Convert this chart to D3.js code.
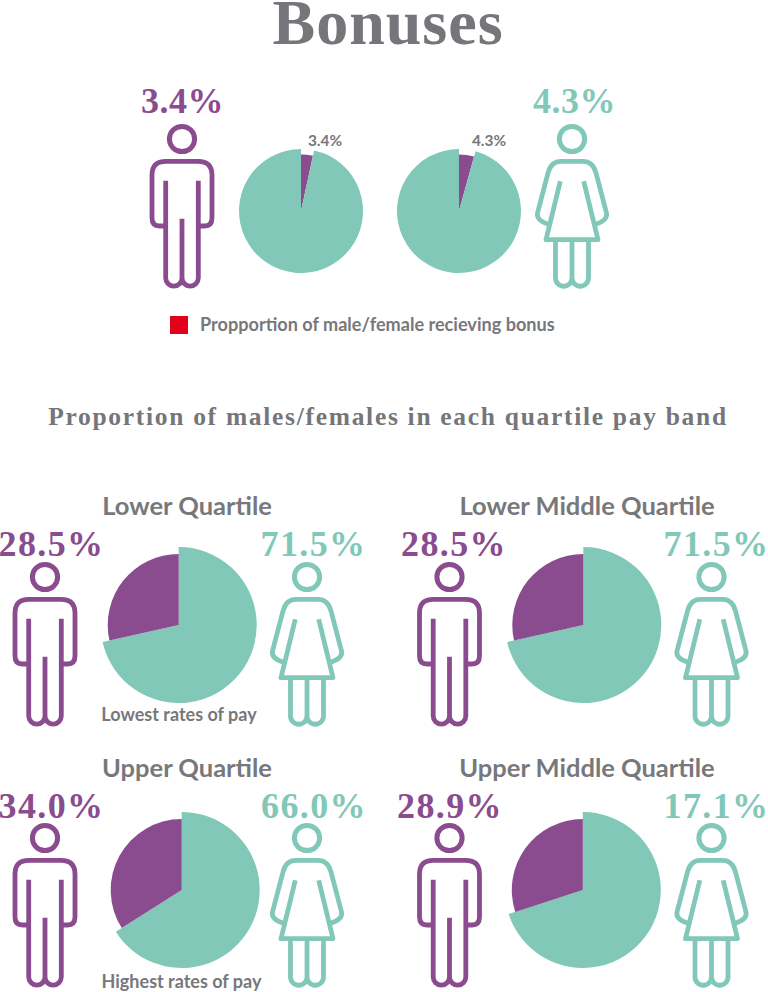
<!DOCTYPE html>
<html><head><meta charset="utf-8">
<script src="https://cdn.jsdelivr.net/npm/d3@7"></script>
<style>html,body{margin:0;padding:0;background:#fff}svg{display:block}
.serif{font-family:"Liberation Serif",serif;font-weight:700}
.sans{font-family:Lato,sans-serif;font-weight:700;fill:#77787b}</style>
</head><body><svg id="c" width="768" height="992"></svg>
<script>
const bonusLabels = ["3.4%", "4.3%"];
const bonusValues = [3.4, 4.3];
const quartiles = ["Lower Quartile", "Lower Middle Quartile", "Upper Quartile", "Upper Middle Quartile"];
// slice sizes as drawn in the picture
const maleShare = [28.5, 28.5, 34.0, 30.0];
const femaleShare = [71.5, 71.5, 66.0, 70.0];
// figures as printed in the picture
const maleText = ["28.5%", "28.5%", "34.0%", "28.9%"];
const femaleText = ["71.5%", "71.5%", "66.0%", "17.1%"];
const notes = ["Lowest rates of pay", "", "Highest rates of pay", ""];
const legendText = "Propportion of male/female recieving bonus";

const PURPLE = "#8a4b8f", TEAL = "#82c8b9", GREY = "#75767a";
const svg = d3.select("#c");
const pie = d3.pie().sort(null).value(d => d.v);

function drawPie(cx, cy, outer, inner, share, rest, purpleFirst) {
  const g = svg.append("g").attr("transform", `translate(${cx},${cy})`);
  const a = {v: share, c: PURPLE, r: inner}, b = {v: rest, c: TEAL, r: outer};
  g.selectAll("path").data(pie(purpleFirst ? [a, b] : [b, a]))
    .join("path").attr("fill", d => d.data.c)
    .attr("d", d => d3.arc().innerRadius(0).outerRadius(d.data.r)(d));
}
function head(g, c) {
  g.append("circle").attr("r", 12.6).attr("fill", "none").attr("stroke", c).attr("stroke-width", 5);
}
function male(cx, cy) {
  const g = svg.append("g").attr("transform", `translate(${cx},${cy})`);
  head(g, PURPLE);
  g.append("path").attr("fill", "none").attr("stroke", PURPLE).attr("stroke-width", 4.8).attr("stroke-linejoin", "round")
   .attr("d", "M-16.3,41.7V139A8.1,8.1 0 0 0 0,139V79.7M0,139A8.1,8.1 0 0 0 16.3,139V41.7M-16.3,87H-22.5Q-30,87 -30,79V36Q-30,22.3 -16,22.3H16Q30,22.3 30,36V79Q30,87 22.5,87H16.3");
}
function female(cx, cy) {
  const g = svg.append("g").attr("transform", `translate(${cx},${cy})`);
  head(g, TEAL);
  g.append("path").attr("fill", "none").attr("stroke", TEAL).attr("stroke-width", 4.8).attr("stroke-linejoin", "round").attr("stroke-linecap", "butt")
   .attr("d", "M-11.7,42.3L-26,100.7H26L11.7,42.3M-16.5,100.7V139A8.25,8.25 0 0 0 0,139V100.7M0,139A8.25,8.25 0 0 0 16.5,139V100.7M-24.3,85Q-36,81 -34.5,74L-24,34Q-21,22.3 -11,22.3H11Q21,22.3 24,34L34.5,74Q36,81 24.3,85");
}
function big(x, y, t, c, sp) {
  svg.append("text").attr("class", "serif").attr("x", x).attr("y", y).attr("text-anchor", "middle")
    .attr("font-size", 36).attr("letter-spacing", sp).attr("fill", c).text(t);
}
function sans(x, y, t, size, anchor) {
  svg.append("text").attr("class", "sans").attr("x", x).attr("y", y).attr("text-anchor", anchor || "middle")
    .attr("font-size", size).text(t);
}

svg.append("text").attr("class", "serif").attr("x", 388).attr("y", 44).attr("text-anchor", "middle")
  .attr("font-size", 64).attr("letter-spacing", 1).attr("fill", GREY).text("Bonuses");

male(182, 139); female(572, 139);
big(182.5, 113, bonusLabels[0], PURPLE, 0.5); big(574.5, 113, bonusLabels[1], TEAL, 0.5);
[[301, 325], [459, 489]].forEach(([cx, lx], i) => {
  drawPie(cx, 211, 62, 56.5, bonusValues[i], 100 - bonusValues[i], true);
  sans(lx, 146, bonusLabels[i], 15.4);
});
svg.append("rect").attr("x", 170).attr("y", 316).attr("width", 18).attr("height", 18).attr("fill", "#e2001a");
sans(200, 331, legendText, 18.1, "start");

svg.append("text").attr("class", "serif").attr("x", 388).attr("y", 425).attr("text-anchor", "middle")
  .attr("font-size", 25.5).attr("letter-spacing", 1.7).attr("fill", GREY).text("Proportion of males/females in each quartile pay band");

const slots = [
  [187, 515, 178.7, 625, 45, 307, 577, 556, 51.5, 313.5],
  [587, 515, 583.3, 625, 449.5, 711.5, 577, 556, 454, 716.5],
  [187, 777, 181.7, 890, 45, 307, 838, 818, 51.5, 314],
  [587, 777, 582.8, 890, 449.5, 711.5, 838, 818, 450, 716.5]
];
quartiles.forEach((q, i) => {
  const s = slots[i];
  sans(s[0], s[1], q, 25.5);
  drawPie(s[2], s[3], 78, 71, maleShare[i], femaleShare[i], false);
  male(s[4], s[6]); female(s[5], s[6]);
  big(s[8], s[7], maleText[i], PURPLE, 1.4); big(s[9], s[7], femaleText[i], TEAL, 1.4);
});
sans(179, 720.5, notes[0], 18);
sans(181.5, 988, notes[2], 18);
</script></body></html>
